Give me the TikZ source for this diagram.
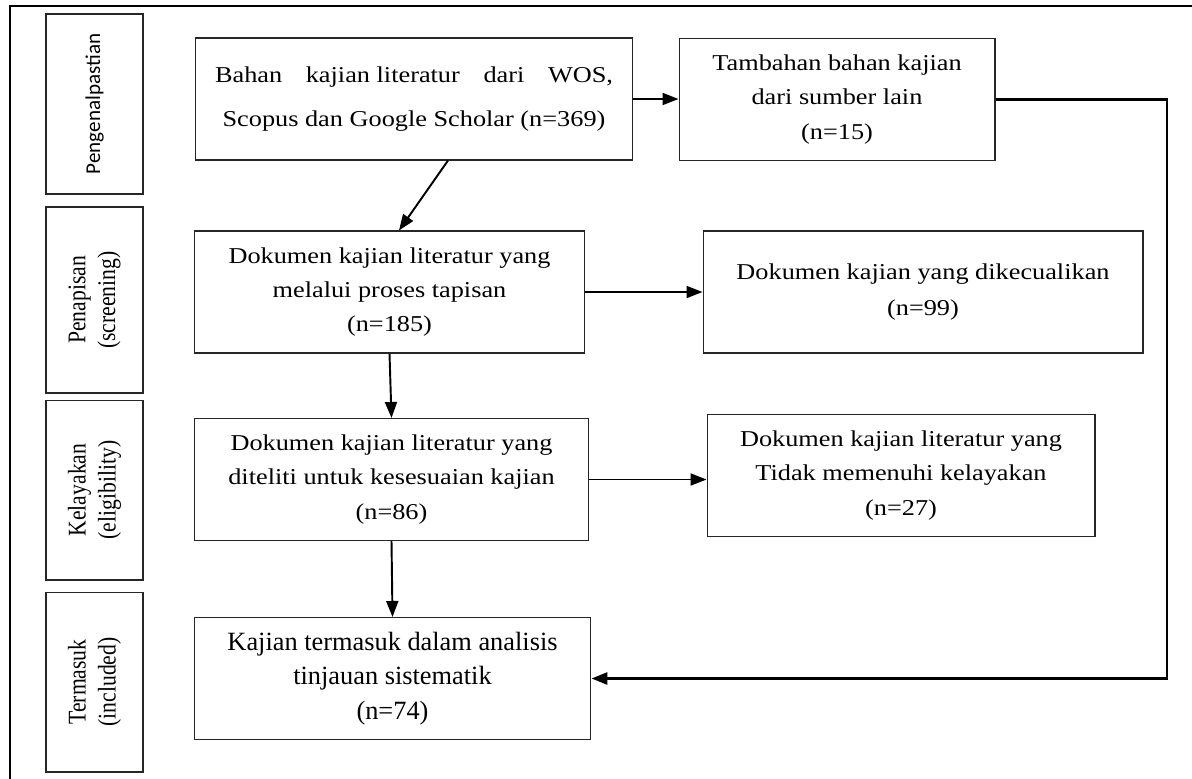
\documentclass[tikz,border=0pt]{standalone}
\usepackage{fontspec}
\setmainfont{Liberation Serif}
\newfontfamily\carlito{Carlito}
\newfontfamily\widefont[FakeStretch=1.16]{Liberation Serif}
\newfontfamily\narrowfont[FakeStretch=0.85]{Liberation Serif}
\usetikzlibrary{arrows.meta}

\begin{document}
\begin{tikzpicture}[x=0.02cm, y=-0.02cm,
    box/.style={draw=black!85, line width=0.6pt, align=center, inner sep=0pt,
      minimum height=2.44cm, font=\widefont\fontsize{12.9}{19.6}\selectfont},
    stage/.style={draw=black!85, line width=0.6pt, rotate=90, align=center,
      minimum width=3.6cm, minimum height=1.94cm, inner sep=0pt,
      font=\narrowfont\fontsize{14.5}{17}\selectfont},
    arr/.style={line width=1.1pt, -{Triangle[length=0.32cm,width=0.24cm]}}]
      \useasboundingbox (0,0) rectangle (1192,778);
      \clip (0,0) rectangle (1192,778);
      \draw [line width=1.1pt] (10,800) -- (10,6) -- (1210,6);

      % stages
      \node [stage] (s1) at (94.5,104) {\carlito\fontsize{12}{17}\selectfont Pengenalpastian};
      \node [stage, minimum width=3.72cm] (s2) at (94.5,300) {Penapisan\\(screening)};
      \node [stage] (s3) at (94.5,490) {Kelayakan\\(eligibility)};
      \node [stage] (s4) at (94.5,682) {Termasuk\\(included)};

      \node [box, minimum width=8.76cm, font=\widefont\fontsize{12.9}{25.5}\selectfont] (bahan) at (414,99)
        {\makebox[7.96cm][s]{Bahan\hfill kajian literatur\hfill dari\hfill WOS,}\\Scopus dan Google Scholar (n=369)};
      \node [box, minimum width=6.32cm] (tambahan) at (837,99.5) {Tambahan bahan kajian\\dari sumber lain\\(n=15)};

      \node [box, minimum width=7.82cm] (dok1) at (389.5,292) {Dokumen kajian literatur yang\\melalui proses tapisan\\(n=185)};
      \node [box, minimum width=8.8cm, font=\widefont\fontsize{12.9}{21}\selectfont] (kecuali) at (923,292) {Dokumen kajian yang dikecualikan\\(n=99)};

      \node [box, minimum width=7.9cm] (dok2) at (391.5,479.5) {Dokumen kajian literatur yang\\diteliti untuk kesesuaian kajian\\(n=86)};
      \node [box, minimum width=7.76cm] (tidak) at (901,475.5) {Dokumen kajian literatur yang\\Tidak memenuhi kelayakan\\(n=27)};

      \node [box, minimum width=7.94cm, font=\fontsize{15}{19.6}\selectfont] (kajian) at (392.5,678.5) {Kajian termasuk dalam analisis\\tinjauan sistematik\\(n=74)};

      \draw [arr] (bahan.east) -- (bahan.east -| tambahan.west);
      \draw [arr] ([xshift=0.68cm]bahan.south) -- ([xshift=0.19cm]dok1.north);
      \draw [arr] (dok1.east) -- (kecuali.west);
      \draw [arr] (dok1.south) -- (dok2.north);
      \draw [arr] (dok2.east) -- (dok2.east -| tidak.west);
      \draw [arr] (dok2.south) -- (kajian.north);

      \coordinate (turn) at (1167,400);
      \draw [arr, line width=1.6pt] (tambahan.east) -| (turn) |- (kajian.east);

    \end{tikzpicture}
\end{document}
